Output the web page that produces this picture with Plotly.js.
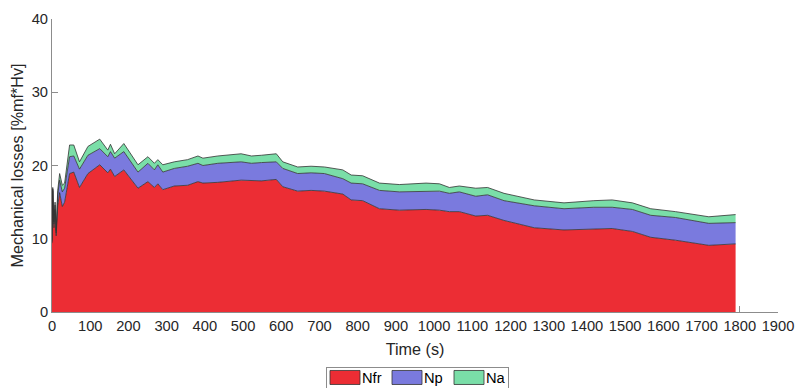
<!DOCTYPE html>
<html>
<head>
<meta charset="utf-8">
<script src="https://cdn.plot.ly/plotly-3.0.1.min.js"></script>
<style>html,body{margin:0;padding:0;background:#fff;}#chart{width:798px;height:388px;}</style>
</head>
<body>
<div id="chart"></div>
<script>
const seriesNames = ['Nfr', 'Np', 'Na'];
const time = [0,2,5,8,11,15,20,27,33,46,57,72,94,125,146,153,164,188,225,251,268,277,290,320,355,382,395,417,434,495,522,548,587,604,643,678,713,761,783,813,857,909,979,1014,1040,1066,1109,1140,1183,1262,1340,1418,1466,1519,1567,1632,1719,1789];
const nfr = [9.4,16.6,11.5,14.0,10.4,14.5,16.3,14.4,15.0,18.9,19.1,17.0,18.9,20.1,19.0,19.5,18.5,19.4,16.9,17.8,17.0,17.5,16.7,17.2,17.3,17.8,17.6,17.6,17.7,18.0,18.0,17.9,18.1,17.1,16.5,16.6,16.5,16.1,15.3,15.2,14.1,13.9,14.0,13.9,13.7,13.7,13.1,13.2,12.5,11.5,11.2,11.3,11.4,11.0,10.2,9.8,9.1,9.3];
const np = [0.2,0.2,0.5,0.6,0.4,1.5,1.7,2.0,1.9,2.3,2.2,2.5,2.5,2.2,2.2,2.4,2.5,2.5,2.2,2.5,2.4,2.6,2.4,2.4,2.6,2.5,2.4,2.6,2.6,2.5,2.3,2.5,2.4,2.5,2.4,2.4,2.4,2.1,2.3,2.3,2.5,2.5,2.5,2.6,2.5,2.7,2.7,2.8,2.7,3.0,2.9,3.0,2.9,3.0,3.0,3.1,3.0,2.9];
const na = [0.2,0.2,0.3,0.4,0.3,0.6,0.9,0.9,0.7,1.6,1.5,1.0,1.2,1.3,0.9,1.0,0.6,1.1,1.0,0.9,0.9,0.7,1.0,0.9,0.9,1.0,1.0,1.0,1.0,1.1,1.0,1.0,1.1,0.9,0.9,0.9,0.9,1.2,1.1,1.1,1.0,1.0,1.1,1.0,0.8,0.8,1.1,1.0,1.0,0.8,0.8,0.9,1.0,0.9,0.9,0.8,0.9,1.1];
const xTicks = [0,100,200,300,400,500,600,700,800,900,1000,1100,1200,1300,1400,1500,1600,1700,1800,1900];
const yTicks = [0,10,20,30,40];

const colors = ['rgb(236,45,52)', 'rgb(122,122,222)', 'rgb(122,222,168)'];
const values = [nfr, np, na];
const traces = values.map((v, i) => ({
  type: 'scatter', mode: 'lines', x: time, y: v, name: seriesNames[i],
  stackgroup: 'one', fillcolor: colors[i],
  line: {color: 'rgb(50,50,50)', width: 0.8}
}));

const font = {family: 'Liberation Sans, Arial, sans-serif', color: '#262626', size: 14.7};
const layout = {
  width: 798, height: 388,
  margin: {l: 52, r: 20, t: 19, b: 76, autoexpand: false},
  paper_bgcolor: '#fff', plot_bgcolor: '#fff',
  font: font,
  showlegend: true,
  legend: {orientation: 'h', x: 0.5, xanchor: 'center', y: -0.225, yanchor: 'middle',
           bordercolor: '#8c8c8c', borderwidth: 1, font: {family: font.family, color: '#000', size: 14.7},
           traceorder: 'normal', entrywidth: 17, entrywidthmode: 'pixels', itemwidth: 30,
           tracegroupgap: 0},
  xaxis: {range: [0, 1900], tickvals: xTicks, ticktext: xTicks.map(String),
          showgrid: false, zeroline: false, showline: true, linecolor: '#8c8c8c', linewidth: 1,
          ticks: 'inside', ticklen: 6, tickcolor: '#8c8c8c', layer: 'below traces',
          title: {text: 'Time (s)', font: {size: 16.2}, standoff: 11}, automargin: false},
  yaxis: {range: [0, 40], tickvals: yTicks, ticktext: yTicks.map(String),
          showgrid: false, zeroline: false, showline: true, linecolor: '#8c8c8c', linewidth: 1,
          ticks: 'inside', ticklen: 6, tickcolor: '#8c8c8c', layer: 'below traces',
          title: {text: 'Mechanical losses [%mf*Hv]', font: {size: 16.2}, standoff: 4}, automargin: false}
};
Plotly.newPlot('chart', traces, layout, {staticPlot: true, displayModeBar: false}).then(gd => {
  // make legend swatches match the boxed rectangles of the reference
  gd.querySelectorAll('.legend .traces').forEach((g, i) => {
    const fill = g.querySelector('path.js-fill');
    if (fill) {
      fill.setAttribute('d', 'M8,-7h30v14h-30z');
      fill.style.fill = colors[i];
      fill.style.stroke = 'rgb(50,50,50)';
      fill.style.strokeWidth = '0.8px';
    }
    const line = g.querySelector('path.js-line');
    if (line) line.style.display = 'none';
  });
  // tighten the legend frame to the reference's size
  const bg = gd.querySelector('.legend rect.bg');
  if (bg) {
    const h = parseFloat(bg.getAttribute('height'));
    const w = parseFloat(bg.getAttribute('width'));
    const target = 21;
    bg.setAttribute('y', (parseFloat(bg.getAttribute('y') || 0) + (h - target) / 2).toString());
    bg.setAttribute('height', target.toString());
    bg.setAttribute('x', (parseFloat(bg.getAttribute('x') || 0) + 5).toString());
    bg.setAttribute('width', (w - 5).toString());
  }
});
</script>
</body>
</html>
